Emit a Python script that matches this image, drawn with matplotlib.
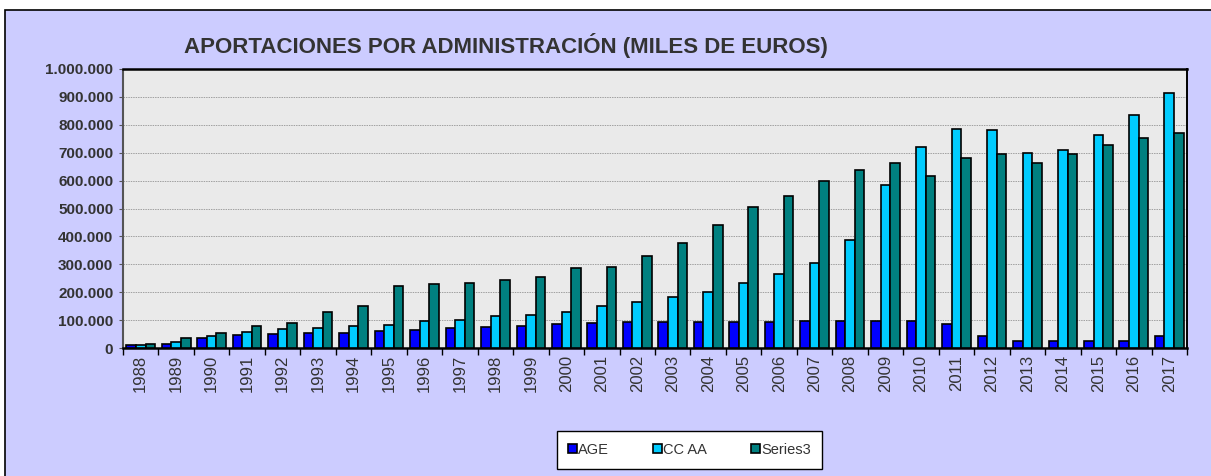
import numpy as np
import matplotlib.pyplot as plt
from matplotlib.patches import Rectangle
from matplotlib.ticker import FuncFormatter, FixedLocator

plt.rcParams['font.family'] = ['Liberation Sans', 'DejaVu Sans']

# Data (miles de euros)
years = [str(y) for y in range(1988, 2018)]
age = [9, 13, 36, 46, 49, 53, 53, 60, 64, 71, 75, 78, 86, 89, 93, 92, 92, 92, 92, 95,
       95, 95, 95, 87, 44, 26, 26, 26, 26, 42]
cc_aa = [9, 23, 42, 59, 67, 71, 78, 81, 95, 99, 113, 119, 130, 149, 166, 184, 202, 234, 266, 306,
         387, 584, 722, 784, 781, 699, 711, 763, 834, 915]
series3 = [13, 35, 52, 78, 88, 130, 152, 223, 230, 234, 242, 255, 288, 292, 330, 377, 441, 507, 545, 600,
           637, 663, 616, 681, 696, 663, 696, 728, 753, 771]

age = np.array(age) * 1000
cc_aa = np.array(cc_aa) * 1000
series3 = np.array(series3) * 1000

fig = plt.figure(figsize=(12.11, 4.76), dpi=100)
fig.patch.set_facecolor('white')
# lavender chart area with black border (left/top visible)
fig.patches.append(Rectangle((5 / 1211, -0.05), 1.1, 1 - 10 / 476 + 0.05, transform=fig.transFigure,
                             facecolor='#CCCCFF', edgecolor='black', linewidth=1.2, zorder=-10))

ax = fig.add_axes([123 / 1211, 1 - 348 / 476, (1187 - 123) / 1211, (348 - 69) / 476])
ax.set_facecolor('#EAEAEA')

x = np.arange(len(years))
w = 0.27
ax.bar(x - w, age, w, color='#0000FF', edgecolor='black', linewidth=1.2, label='AGE', zorder=3)
ax.bar(x, cc_aa, w, color='#00CCFF', edgecolor='black', linewidth=1.2, label='CC AA', zorder=3)
ax.bar(x + w, series3, w, color='#008080', edgecolor='black', linewidth=1.2, label='Series3', zorder=3)

ax.set_xlim(-0.5, len(years) - 0.5)
ax.set_ylim(0, 1000000)
ax.set_yticks(np.arange(0, 1000001, 100000))
ax.yaxis.set_major_formatter(FuncFormatter(lambda v, p: f'{int(v):,}'.replace(',', '.')))
ax.yaxis.grid(True, linestyle=(0, (1.5, 1)), color='#A0A0A0', linewidth=0.7, zorder=0)

ax.set_xticks(x)
ax.set_xticklabels(years, rotation=90, fontsize=12, color='#333333')
ax.tick_params(axis='x', which='major', length=0, pad=5)
ax.xaxis.set_minor_locator(FixedLocator(np.arange(-0.5, len(years), 1)))
ax.tick_params(axis='x', which='minor', length=5, width=1, color='black', direction='out')
ax.tick_params(axis='y', length=3, width=0.8, color='#555555', pad=4)
for lab in ax.get_yticklabels():
    lab.set_fontsize(11)
    lab.set_fontweight('bold')
    lab.set_color('#333333')

for s in ['top', 'right', 'bottom']:
    ax.spines[s].set_color('black')
    ax.spines[s].set_linewidth(1.8)
ax.spines['right'].set_linewidth(1.4)
ax.spines['left'].set_color('#555555')
ax.spines['left'].set_linestyle((0, (1, 1)))
ax.spines['left'].set_linewidth(1.5)

fig.text(506 / 1211, 1 - 45 / 476, 'APORTACIONES POR ADMINISTRACIÓN (MILES DE EUROS)',
         ha='center', va='center', fontsize=16, fontweight='bold', color='#333333')

leg = fig.legend(loc='center', bbox_to_anchor=(689.5 / 1211, 1 - 450 / 476), ncol=3,
                 fontsize=10.5, frameon=True, fancybox=False, edgecolor='black', framealpha=1,
                 handlelength=0.6, handleheight=0.6, handletextpad=0.1, columnspacing=3.0,
                 borderpad=0.8, borderaxespad=0)
leg.get_frame().set_linewidth(1.0)
leg.get_frame().set_facecolor('white')
for t in leg.get_texts():
    t.set_color('#333333')

fig.savefig('out.png', dpi=100)
